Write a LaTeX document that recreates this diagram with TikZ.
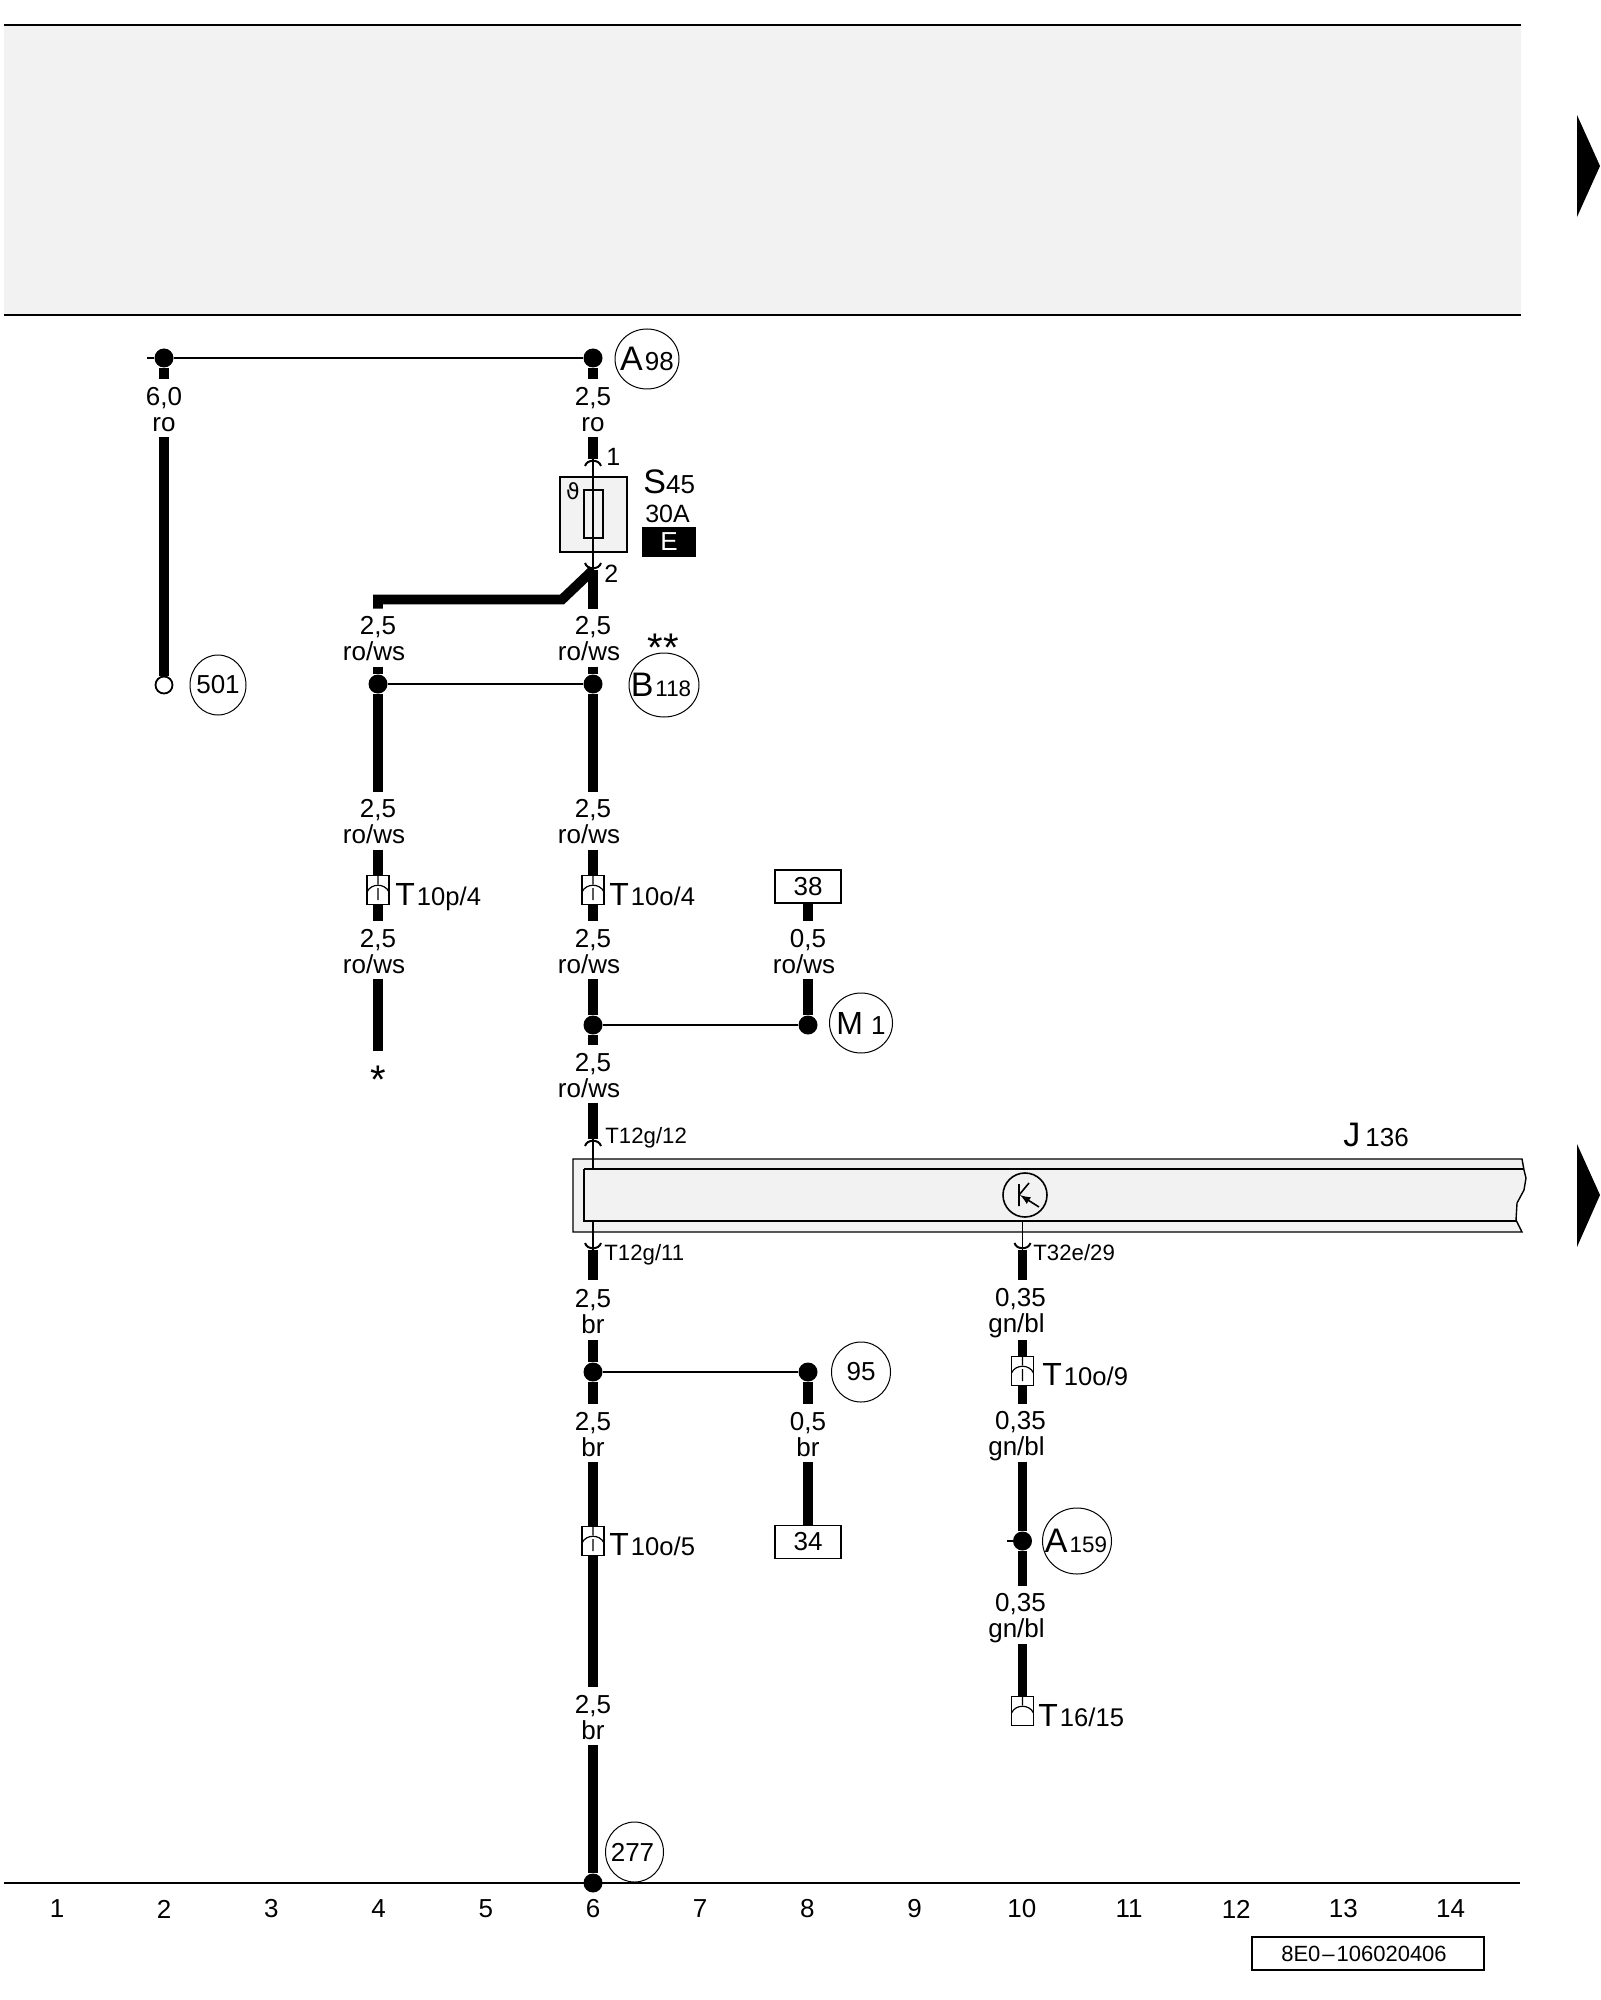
\documentclass[tikz,border=0pt]{standalone}
\usepackage{fontspec}
\setmainfont{Liberation Sans}
\newfontfamily\thetafont{DejaVu Sans}
\usetikzlibrary{shapes.geometric}

\definecolor{panelgray}{HTML}{F2F2F2}
\newcommand{\fs}[1]{\fontsize{#1}{#1}\selectfont}
\newcommand{\bigsmall}[3][13]{\makebox[0pt]{{\fs{17}#2}{\fs{#1}\kern1pt#3}}}
\newcommand{\tname}[1]{{\fs{16}T}\kern1pt{\fs{12.8}#1}}
\newcommand{\wl}[3][10.6pt]{\rule{0pt}{#1}#2\\#3}

\tikzset{
  wire/.style={line width=4.9pt},
  thinw/.style={line width=0.7pt},
  wlabel/.style={inner sep=0, outer sep=0, align=center, minimum height=29pt,
    font=\fontsize{13}{13}\selectfont},
  dot/.style={circle, fill=black, inner sep=0, minimum size=9.5pt},
  opendot/.style={circle, draw, fill=white, line width=0.9pt, inner sep=0, minimum size=8.5pt},
  tag/.style={ellipse, draw, line width=0.5pt, inner sep=0, minimum width=#1, minimum height=30pt,
    font=\fontsize{13}{13}\selectfont},
  tag/.default=30pt,
  pinbox/.style={draw, line width=0.7pt, fill=white, inner sep=0, minimum width=33pt, minimum height=16.5pt,
    font=\fontsize{13}{13}\selectfont},
  tshell/.style={draw, line width=0.6pt, fill=white, inner sep=0, minimum width=11pt, minimum height=14.5pt},
  tend/.style={tshell, path picture={
    \draw[line width=0.6pt, shift={(path picture bounding box.center)}]
      (0,-14) -- (0,-6) (-11,2) .. controls (-7,-7) and (7,-7) .. (11,2);}},
  tconn/.style={tshell, path picture={
    \draw[line width=0.6pt, shift={(path picture bounding box.center)}]
      (0,-14) -- (0,-6) (-11,2) .. controls (-7,-7) and (7,-7) .. (11,2) (0,-2) -- (0,10);}},
  tlabel/.style={anchor=base west, inner sep=0},
  pinname/.style={anchor=base west, inner sep=0, font=\fontsize{11.1}{12}\selectfont},
  colnum/.style={inner sep=0, font=\fontsize{13}{13}\selectfont},
  pintop/.pic={\draw[line width=1pt] (-8,7) .. controls (-6,0) and (6,0) .. (8,7);},
  pinbot/.pic={\draw[line width=1pt] (-8,-7) .. controls (-6,0) and (6,0) .. (8,-7);}
}

\begin{document}
\begin{tikzpicture}[x=0.5pt, y=-0.5pt]
  \useasboundingbox (0,0) rectangle (1600,2000);

  % grey band and frame lines
  \fill[panelgray] (4,25) rectangle (1521,315);
  \draw[thinw] (4,25) -- (1521,25);
  \draw[thinw] (4,315) -- (1521,315);
  \draw[thinw] (4,1883) -- (1520,1883);
  \fill (1577,115) -- (1600,166) -- (1577,217) -- cycle;
  \fill (1577,1144) -- (1600,1195) -- (1577,1247) -- cycle;

  % control unit
  \draw[thinw, fill=panelgray] (1522,1159) -- (573,1159) -- (573,1232) -- (1522,1232)
    -- (1516,1220) -- (1517,1203) -- (1524,1190) -- (1526,1178) -- (1524,1170) -- cycle;
  \draw[thinw] (584,1169) -- (1524,1169);
  \draw[thinw] (584,1169) -- (584,1221) -- (1516,1221);
  \node[circle, draw, line width=0.8pt, inner sep=0, minimum size=22pt, path picture={
    \draw[line width=0.8pt, shift={(path picture bounding box.center)}] (-6,-11) -- (-6,11)
      (-6,0) -- (4,-12);
    \draw[line width=0.8pt, latex-, shift={(path picture bounding box.center)}] (-5,0) -- (14,12);
  }] (trans) at (1025,1195) {};
  \node[tlabel] (j136) at (1343,1146) {{\fs{17}J}\kern2.5pt{\fs{13}136}};

  % fuse
  \node[draw, thinw, fill=panelgray, inner sep=0, minimum width=33.5pt, minimum height=37.5pt] (fuse) at (593.5,514.5) {};
  \node[draw, thinw, fill=panelgray, inner sep=0, minimum width=9.5pt, minimum height=24pt] (fuseel) at (593.5,514) {};
  \node[inner sep=0, font=\thetafont\fontsize{11}{11}\selectfont] (theta) at (573,491) {ϑ};
  \node[tlabel] (s45) at (643,494) {{\fs{17}S}{\fs{13}45}};
  \node[inner sep=0, font=\fontsize{12.5}{13}\selectfont] (amp) at (667.5,514) {30A};
  \node[fill=black, text=white, inner sep=0, minimum width=27pt, minimum height=15pt, font=\fontsize{13}{13}\selectfont] (fuseE) at (669,542) {E};
  \coordinate (pfa) at (593,459);
  \coordinate (pfb) at (593,570);
  \pic at (pfa) {pintop};
  \pic at (pfb) {pinbot};
  \draw[thinw] (pfa) -- (pfb);
  \node[anchor=west, inner sep=0, font=\fontsize{12.5}{13}\selectfont] (pina) at (606,457) {1};
  \node[anchor=west, inner sep=0, font=\fontsize{12.5}{13}\selectfont] (pinb) at (604,574) {2};

  % column 2
  \coordinate (stub) at (147,358);
  \node[dot] (dtopa) at (164,358) {};
  \node[wlabel] (la) at (164,408) {\wl{6,0}{ro}};
  \node[opendot] (dopen) at (164,685) {};
  \node[tag=28pt] (c501) at (218,685) {\makebox[0pt]{501}};
  \draw[wire] (dtopa) -- (la);
  \draw[wire] (la) -- (dopen);

  % column 6, top
  \node[dot] (dtopb) at (593,358) {};
  \node[tag=32pt] (a98) at (647,359) {\bigsmall{A}{98}};
  \node[wlabel] (lb) at (593,408) {\wl{2,5}{ro}};
  \draw[thinw] (stub) -- (dtopa) -- (dtopb);
  \draw[wire] (dtopb) -- (lb);
  \draw[wire] (lb) -- (pfa);

  \node[wlabel] (lc) at (593,637.5) {\wl{2,5}{ro/ws\kern4pt}};
  \node[wlabel] (ld) at (378,637.5) {\wl{2,5}{ro/ws\kern4pt}};
  \coordinate (bend) at (562,599.5);
  \coordinate (bendl) at (378,599.5);
  \draw[wire] (pfb) -- (lc);
  \draw[wire] (pfb) -- (bend) -- (bendl) -- (ld);

  \node[dot] (dc) at (593,684) {};
  \node[dot] (dd) at (378,684) {};
  \node[tag=35pt, minimum height=32pt] (b118) at (664,685) {\bigsmall[11.2]{B}{118\kern3pt}};
  \node[inner sep=0, font=\fontsize{20}{20}\selectfont] (stars) at (663,648) {**};
  \draw[thinw] (dd) -- (dc);
  \draw[wire] (lc) -- (dc);
  \draw[wire] (ld) -- (dd);

  \node[wlabel] (le) at (593,820.5) {\wl{2,5}{ro/ws\kern4pt}};
  \node[wlabel] (lf) at (378,820.5) {\wl{2,5}{ro/ws\kern4pt}};
  \draw[wire] (dc) -- (le);
  \draw[wire] (dd) -- (lf);

  \node[tconn] (tfour) at (593,890) {};
  \node[tconn] (tthree) at (378,890) {};
  \node[tlabel] (ntfour) at (609,905) {\tname{10o/4}};
  \node[tlabel] (ntthree) at (395,905) {\tname{10p/4}};
  \draw[wire] (le) -- (tfour);
  \draw[wire] (lf) -- (tthree);

  \node[wlabel] (lg) at (593,950) {\wl{2,5}{ro/ws\kern4pt}};
  \node[wlabel] (lh) at (378,950) {\wl{2,5}{ro/ws\kern4pt}};
  \draw[wire] (tfour) -- (lg);
  \draw[wire] (tthree) -- (lh);

  % branch ends at the star
  \node[inner sep=0, minimum height=4pt, font=\fontsize{20}{20}\selectfont] (star) at (378,1080) {*};
  \coordinate (lhend) at (378,1051);
  \draw[wire] (lh) -- (lhend);

  % column 8, top
  \node[pinbox] (box38) at (808,886.5) {38};
  \node[wlabel] (li) at (808,950) {\wl{0,5}{ro/ws\kern4pt}};
  \node[dot] (dm) at (808,1025) {};
  \node[dot] (dg) at (593,1025) {};
  \node[tag=31.5pt] (m1) at (861,1023) {\makebox[0pt]{{\fs{16}M}\kern4pt{\fs{13}1}}};
  \draw[wire] (box38) -- (li);
  \draw[wire] (li) -- (dm);
  \draw[wire] (lg) -- (dg);
  \draw[thinw] (dg) -- (dm);

  % into the control unit
  \node[wlabel] (lj) at (593,1074) {\wl{2,5}{ro/ws\kern4pt}};
  \coordinate (pjt) at (593,1139);
  \coordinate (pjb) at (593,1250);
  \coordinate (pkb) at (1022.5,1250);
  \coordinate (pjtin) at (593,1169);
  \coordinate (pjbin) at (593,1221);
  \coordinate (pkin) at (1022.5,1221);
  \draw[wire] (dg) -- (lj);
  \draw[wire] (lj) -- (pjt);
  \pic at (pjt) {pintop};
  \pic at (pjb) {pinbot};
  \pic at (pkb) {pinbot};
  \draw[thinw] (pjt) -- (pjtin);
  \draw[thinw] (pjbin) -- (pjb);
  \draw[thinw] (pkin) -- (pkb);
  \node[pinname] (ptop) at (605,1143) {T12g/12};
  \node[pinname] (pbot) at (604,1260) {T12g/11};
  \node[pinname] (ptran) at (1033,1260) {T32e/29};

  % column 6, bottom
  \node[wlabel, minimum height=30pt] (lk) at (593,1310) {\wl{2,5}{br}};
  \node[dot] (dk) at (593,1372) {};
  \node[dot] (dn) at (808,1372) {};
  \node[tag=29.5pt] (c95) at (861,1372) {\makebox[0pt]{95}};
  \node[wlabel] (ll) at (593,1433) {\wl{2,5}{br}};
  \node[wlabel] (ln) at (808,1433) {\wl{0,5}{br}};
  \node[pinbox] (box34) at (808,1542) {34};
  \node[tconn] (tfive) at (593,1541) {};
  \node[tlabel] (ntfive) at (609,1555) {\tname{10o/5}};
  \node[wlabel] (lm) at (593,1716) {\wl{2,5}{br}};
  \node[dot] (dend) at (593,1883) {};
  \node[tag=29pt] (c277) at (634.5,1852) {\makebox[0pt]{277\kern2pt}};
  \draw[wire] (pjb) -- (lk);
  \draw[wire] (lk) -- (dk);
  \draw[wire] (dk) -- (ll);
  \draw[wire] (ll) -- (tfive);
  \draw[wire] (tfive) -- (lm);
  \draw[wire] (lm) -- (dend);
  \draw[thinw] (dk) -- (dn);
  \draw[wire] (dn) -- (ln);
  \draw[wire] (ln) -- (box34);

  % column 10
  \node[wlabel, minimum height=30pt] (lp) at (1022.5,1310) {\wl[12.5pt]{0,35\kern2pt}{gn/bl\kern6pt}};
  \node[tconn] (tnine) at (1022.5,1371) {};
  \node[tlabel] (ntnine) at (1042,1385) {\tname{10o/9}};
  \node[wlabel] (lq) at (1022.5,1432.5) {\wl[12.5pt]{0,35\kern2pt}{gn/bl\kern6pt}};
  \node[dot] (dr) at (1022.5,1541) {};
  \coordinate (rstub) at (1007,1541);
  \node[tag=34.5pt, minimum height=33pt] (a159) at (1077,1541) {\bigsmall[11.2]{A}{159\kern1pt}};
  \node[wlabel] (lr) at (1022.5,1615) {\wl[12.5pt]{0,35\kern2pt}{gn/bl\kern6pt}};
  \node[tend] (tfift) at (1022.5,1711) {};
  \node[tlabel] (ntfift) at (1038,1726) {\tname{16/15}};
  \draw[wire] (pkb) -- (lp);
  \draw[wire] (lp) -- (tnine);
  \draw[wire] (tnine) -- (lq);
  \draw[wire] (lq) -- (dr);
  \draw[wire] (dr) -- (lr);
  \draw[wire] (lr) -- (tfift);
  \draw[thinw] (rstub) -- (dr);

  % column numbers
  \foreach \n in {1,...,14}
    \node[colnum] (col\n) at ({57+107.2*(\n-1)},1909) {\n};
  \node[draw, thinw, inner sep=0, minimum width=116pt, minimum height=16.5pt, font=\fontsize{11}{12}\selectfont] (docno) at (1368,1953.5) {8E0\kern1pt--\kern1pt106020406\kern4pt};
\end{tikzpicture}
\end{document}
